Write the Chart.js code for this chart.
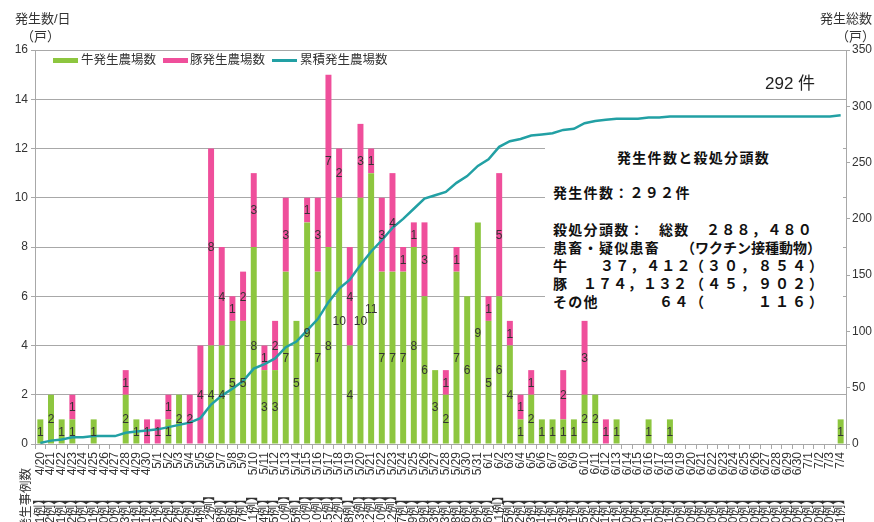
<!DOCTYPE html>
<html><head><meta charset="utf-8">
<script src="https://cdn.jsdelivr.net/npm/chart.js@4/dist/chart.umd.min.js"></script>
<style>
html,body{margin:0;padding:0;background:#fff;overflow:hidden}
#wrap{position:relative;width:874px;height:522px;overflow:hidden;font-family:'Liberation Sans','Noto Sans CJK JP',sans-serif;color:#333}
.t{position:absolute;white-space:pre;line-height:18px}
.bx{font-family:'Noto Sans CJK JP',sans-serif;font-weight:bold;font-size:14px;color:#111;letter-spacing:1.3px}
</style></head><body>
<div id="wrap">
<canvas id="c" width="874" height="522"></canvas>
<div class="t" style="left:15px;top:10px;font-size:13px">発生数/日</div>
<div class="t" style="left:21px;top:28px;font-size:13px">（戸）</div>
<div class="t" style="left:820px;top:10px;font-size:13px">発生総数</div>
<div class="t" style="left:836px;top:28px;font-size:13px">（戸）</div>
<div style="position:absolute;left:53px;top:58px;width:25px;height:5px;background:#8dc63f"></div>
<div class="t" style="left:81px;top:51px;font-size:12.5px">牛発生農場数</div>
<div style="position:absolute;left:163px;top:58px;width:25px;height:5px;background:#ef4f9b"></div>
<div class="t" style="left:190px;top:51px;font-size:12.5px">豚発生農場数</div>
<div style="position:absolute;left:272px;top:59px;width:25px;height:3px;background:#22a0a4"></div>
<div class="t" style="left:300px;top:51px;font-size:12.5px">累積発生農場数</div>
<div class="t" style="left:765px;top:75px;font-size:17px;color:#222">292 件</div>
<div style="position:absolute;left:545px;top:140px;width:298px;height:179px;background:#fff"></div>
<div class="t bx" style="left:617px;top:148px">発生件数と殺処分頭数</div>
<div class="t bx" style="left:553px;top:183px">発生件数：２９２件</div>
<div class="t bx" style="left:553px;top:220px">殺処分頭数：</div>
<div class="t bx" style="left:659px;top:220px">総数</div>
<div class="t bx" style="left:706px;top:220px">２８８，４８０</div>
<div class="t bx" style="left:553px;top:238px">患畜・疑似患畜</div>
<div class="t bx" style="left:681px;top:238px;letter-spacing:0">（ワクチン接種動物）</div>
<div class="t bx" style="left:553px;top:256px">牛</div>
<div class="t bx" style="left:600px;top:256px">３７，４１２</div>
<div class="t bx" style="left:690px;top:256px;letter-spacing:3px">（３０，８５４）</div>
<div class="t bx" style="left:553px;top:274px">豚</div>
<div class="t bx" style="left:583px;top:274px;letter-spacing:1px">１７４，１３２</div>
<div class="t bx" style="left:690px;top:274px;letter-spacing:3px">（４５，９０２）</div>
<div class="t bx" style="left:553px;top:292px">その他</div>
<div class="t bx" style="left:659px;top:292px">６４</div>
<div class="t bx" style="left:690px;top:292px;letter-spacing:3px">（　　　１１６）</div>
</div>
<script>
const dates = ['4/20','4/21','4/22','4/23','4/24','4/25','4/26','4/27','4/28','4/29','4/30',
'5/1','5/2','5/3','5/4','5/5','5/6','5/7','5/8','5/9','5/10','5/11','5/12','5/13','5/14','5/15','5/16','5/17','5/18','5/19','5/20','5/21','5/22','5/23','5/24','5/25','5/26','5/27','5/28','5/29','5/30','5/31',
'6/1','6/2','6/3','6/4','6/5','6/6','6/7','6/8','6/9','6/10','6/11','6/12','6/13','6/14','6/15','6/16','6/17','6/18','6/19','6/20','6/21','6/22','6/23','6/24','6/25','6/26','6/27','6/28','6/29','6/30',
'7/1','7/2','7/3','7/4'];
const caseCounts = [1,2,1,2,0,1,0,0,3,1,1,
1,2,2,2,4,12,8,6,7,11,4,5,10,5,10,10,15,12,8,13,12,10,12,7,9,9,3,3,8,6,9,
6,11,5,2,3,1,1,3,1,5,2,1,1,0,0,1,0,1,0,0,0,0,0,0,0,0,0,0,0,0,
0,0,0,1];
const cattle = [1,2,1,1,0,1,0,0,2,1,0,
0,1,2,0,0,4,4,5,5,8,3,3,7,5,9,7,8,10,4,10,11,7,7,7,8,6,3,2,7,6,9,
5,6,4,1,2,1,1,1,1,2,2,0,1,0,0,1,0,1,0,0,0,0,0,0,0,0,0,0,0,0,
0,0,0,1];
const pigs = [0,0,0,1,0,0,0,0,1,0,1,
1,1,0,2,4,8,4,1,2,3,1,2,3,0,1,3,7,2,4,3,1,3,4,1,1,3,0,1,1,0,0,
1,5,1,1,1,0,0,2,0,3,0,1,0,0,0,0,0,0,0,0,0,0,0,0,0,0,0,0,0,0,
0,0,0,0];
const cumulative = [1,3,4,6,6,7,7,7,10,11,12,
13,15,17,19,23,35,43,49,56,67,71,76,86,91,101,111,126,138,146,159,171,181,192,200,209,218,221,224,232,238,247,
253,264,269,271,274,275,276,279,280,285,287,288,289,289,289,290,290,291,291,291,291,291,291,291,291,291,291,291,291,291,
291,291,291,292];
const leftTicks = {min:0, max:16, step:2};
const rightTicks = {min:0, max:350, step:50};

const FONT = "'Liberation Sans','Noto Sans CJK JP',sans-serif";
const GRID = '#a8a8a8';

const labelPlugin = {
  id:'barLabels',
  afterDatasetsDraw(chart){
    const ctx = chart.ctx;
    ctx.save();
    ctx.font = '12px ' + FONT;
    ctx.fillStyle = '#333';
    ctx.textAlign = 'center';
    ctx.textBaseline = 'middle';
    [0,1].forEach(di=>{
      const meta = chart.getDatasetMeta(di);
      const data = chart.data.datasets[di].data;
      meta.data.forEach((el,i)=>{
        if(!data[i]) return;
        const p = el.getProps(['x','y','base'], true);
        ctx.fillText(String(data[i]), p.x, (p.y+p.base)/2 + 1);
      });
    });
    ctx.restore();
  },
  afterDraw(chart){
    const ctx = chart.ctx;
    const xs = chart.scales.x;
    ctx.save();
    ctx.fillStyle = '#333';
    ctx.font = '12px ' + FONT;
    ctx.textAlign = 'center';
    ctx.textBaseline = 'middle';
    caseCounts.forEach((n,i)=>{
      const x = xs.getPixelForValue(i);
      ctx.save();
      ctx.translate(x, 514);
      ctx.rotate(-Math.PI/2);
      ctx.fillText('【' + n + '例】', 0, 0);
      ctx.restore();
    });
    ctx.font = '12.5px ' + FONT;
    ctx.textAlign = 'right';
    ctx.translate(27, 468);
    ctx.rotate(-Math.PI/2);
    ctx.fillText('発生事例数', 0, 0);
    ctx.restore();
  }
};

new Chart(document.getElementById('c'), {
  type:'bar',
  data:{
    labels: dates,
    datasets:[
      {label:'牛発生農場数', data:cattle, backgroundColor:'#8dc63f', borderWidth:0, stack:'s', order:2,
       barPercentage:0.56, categoryPercentage:1.0},
      {label:'豚発生農場数', data:pigs, backgroundColor:'#ef4f9b', borderWidth:0, stack:'s', order:2,
       barPercentage:0.56, categoryPercentage:1.0},
      {type:'line', label:'累積発生農場数', data:cumulative, yAxisID:'y1', borderColor:'#22a0a4',
       backgroundColor:'#22a0a4', borderWidth:2.5, pointRadius:0, tension:0, order:0}
    ]
  },
  options:{
    responsive:false, animation:false, devicePixelRatio:1,
    layout:{padding:{top:50,left:0,right:0,bottom:0}},
    plugins:{legend:{display:false}, tooltip:{enabled:false}},
    scales:{
      x:{stacked:true, offset:true,
        grid:{drawOnChartArea:false, color:GRID, tickLength:5, offset:true},
        border:{color:GRID},
        ticks:{autoSkip:false, minRotation:90, maxRotation:90, padding:3, color:'#333', font:{size:12, family:FONT}},
        afterFit(s){ s.height = 78; }
      },
      y:{stacked:true, min:leftTicks.min, max:leftTicks.max,
        grid:{color:GRID, tickLength:4},
        border:{color:GRID},
        ticks:{stepSize:leftTicks.step, padding:3, color:'#333', font:{size:12, family:FONT}},
        afterFit(s){ s.width = 35; }
      },
      y1:{position:'right', min:rightTicks.min, max:rightTicks.max,
        grid:{drawOnChartArea:false, color:GRID, tickLength:4},
        border:{color:GRID},
        ticks:{stepSize:rightTicks.step, padding:2, color:'#333', font:{size:12, family:FONT}},
        afterFit(s){ s.width = 28; }
      }
    }
  },
  plugins:[labelPlugin]
});
</script>
</body></html>
